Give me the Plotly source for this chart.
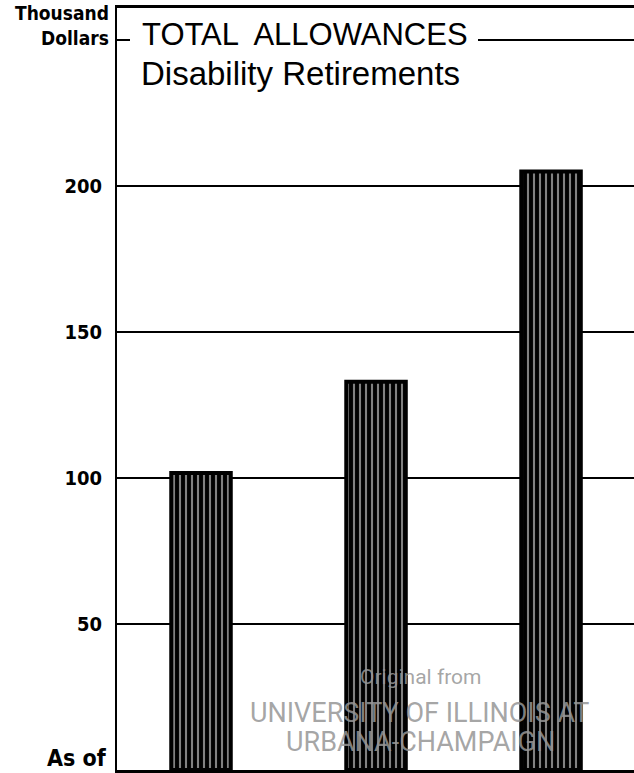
import plotly.graph_objects as go

# Data
categories = ["Period 1", "Period 2", "Period 3"]
allowances = [101.7, 133.0, 205.0]  # thousand dollars
tick_values = [50, 100, 150, 200, 250]
tick_labels = ["50", "100", "150", "200", ""]

W, H = 634, 773
L, R, T, B = 117, 0, 8, 3
PW = W - L - R

def px(x):
    return (x - L) / PW

COND = "DejaVu Sans Condensed, DejaVu Sans, sans-serif"
SANS = "Liberation Sans, Arial, sans-serif"
WMF = "Roboto, sans-serif"
WM = "rgba(150,150,150,0.85)"

fig = go.Figure()
fig.add_trace(go.Bar(
    x=categories,
    y=allowances,
    width=0.34,
    marker=dict(
        color="black",
        line=dict(color="black", width=4),
        pattern=dict(shape="|", fgcolor="white", bgcolor="black", size=6, solidity=0.35),
    ),
    hoverinfo="skip",
))

annotations = [
    dict(text="TOTAL  ALLOWANCES", x=px(140), y=252.0, xref="paper", yref="y",
         xanchor="left", yanchor="middle", showarrow=False,
         font=dict(family=SANS, size=31, color="black")),
    dict(text="Disability Retirements", x=px(139), y=238.5, xref="paper", yref="y",
         xanchor="left", yanchor="middle", showarrow=False,
         font=dict(family=SANS, size=33, color="black")),
    dict(text="<b>Thousand<br>Dollars</b>", x=px(111), y=1.0, xref="paper", yref="paper",
         xanchor="right", yanchor="top", align="right", showarrow=False, yshift=8,
         font=dict(family=COND, size=19, color="black")),
    dict(text="<b>As of</b>", x=px(109), y=0, xref="paper", yref="paper",
         xanchor="right", yanchor="bottom", showarrow=False, yshift=-3,
         font=dict(family=COND, size=23, color="black")),
    dict(text="Original from", x=px(421), y=(770 - 677) / 762, xref="paper", yref="paper",
         xanchor="center", yanchor="middle", showarrow=False,
         font=dict(family=WMF, size=21, color=WM)),
    dict(text="UNIVERSITY OF ILLINOIS AT", x=px(419), y=(770 - 713) / 762, xref="paper", yref="paper",
         xanchor="center", yanchor="middle", showarrow=False,
         font=dict(family=WMF, size=27, color=WM)),
    dict(text="URBANA-CHAMPAIGN", x=px(420), y=(770 - 742) / 762, xref="paper", yref="paper",
         xanchor="center", yanchor="middle", showarrow=False,
         font=dict(family=WMF, size=27, color=WM)),
]

# white patch behind the title so the 250 gridline stops at the text
shapes = [
    dict(type="rect", xref="paper", yref="y", x0=px(130), x1=px(478), y0=246, y1=254,
         fillcolor="white", line=dict(width=0), layer="above"),
]

fig.update_layout(
    width=W, height=H,
    margin=dict(l=L, r=R, t=T, b=B),
    paper_bgcolor="white", plot_bgcolor="white",
    showlegend=False,
    annotations=annotations,
    shapes=shapes,
    xaxis=dict(range=[-0.48, 2.474], showticklabels=False, showgrid=False,
               showline=True, linecolor="black", linewidth=3, mirror=True,
               zeroline=False, fixedrange=True),
    yaxis=dict(range=[0, 261], tickvals=tick_values, ticktext=tick_labels,
               showgrid=True, gridcolor="black", gridwidth=2,
               showline=True, linecolor="black", linewidth=2,
               zeroline=False, ticks="", ticklabelstandoff=9,
               tickfont=dict(family=COND, size=20, color="black", weight="bold")),
)

fig.write_html("out.html")
